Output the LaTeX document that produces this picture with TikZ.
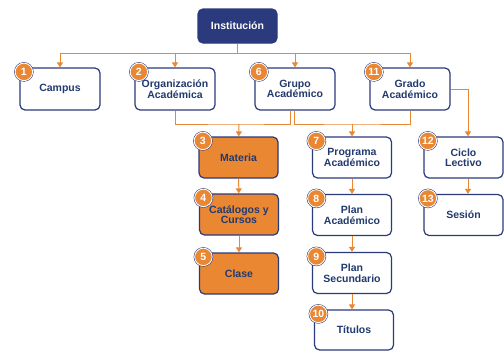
\documentclass[tikz,border=0pt]{standalone}
\usepackage{fontspec}
\setmainfont{Liberation Sans}
\usetikzlibrary{arrows.meta}
\definecolor{navy}{HTML}{2B3A7C}
\definecolor{ink}{HTML}{233A6E}
\definecolor{org}{HTML}{EA8733}
\begin{document}
\begin{tikzpicture}[x=1pt,y=-1pt,
 box/.style={draw=navy,line width=1.2pt,rounded corners=5pt,fill=white,minimum width=80pt,minimum height=42pt,inner sep=1pt,align=center,font=\fontsize{10.5}{10.5}\selectfont\bfseries,text=ink},
 obox/.style={box,fill=org},
 ibox/.style={box,fill=navy,text=white,minimum width=79pt,minimum height=34pt},
 badge/.style={circle,fill=org,draw=white,line width=0.9pt,preaction={draw=navy,line width=2pt},minimum size=17.5pt,inner sep=0pt,text=white,font=\fontsize{10.5}{10.5}\selectfont\bfseries},
 conn/.style={draw=org,line width=1pt},
 arr/.style={conn,-{Triangle[width=6pt,length=5pt]}}]
\useasboundingbox (0,0) rectangle (504,351);
% boxes
\node[ibox] (inst) at (237.5,26) {Institución};
\node[box] (campus) at (60,89) {Campus};
\node[box] (orga) at (175,89) {Organización\\Académica};
\node[box] (grupo) at (295,89) {Grupo\\Académico};
\node[box] (grado) at (410,89) {Grado\\Académico};
\node[obox,minimum width=79pt,minimum height=41pt] (materia) at (238.5,157.5) {Materia};
\node[obox,minimum width=79pt,minimum height=41pt] (catal) at (239,214.5) {Catálogos y\\Cursos};
\node[obox,minimum width=79pt,minimum height=41pt] (clase) at (239,273.5) {Clase};
\node[box,minimum width=79pt,minimum height=41pt] (prog) at (352,157.5) {Programa\\Académico};
\node[box,minimum width=79pt,minimum height=41pt] (plana) at (352,215) {Plan\\Académico};
\node[box,minimum width=79pt,minimum height=41pt] (plans) at (352,273) {Plan\\Secundario};
\node[box,minimum width=79pt,minimum height=40pt] (titulos) at (354,330) {Títulos};
\node[box,minimum width=79pt,minimum height=41pt] (ciclo) at (463.5,157.5) {Ciclo\\Lectivo};
\node[box,minimum width=79pt,minimum height=41pt] (sesion) at (463.5,215) {Sesión};
% connectors
\coordinate (j0) at (237.5,53);
\draw[conn] (inst) -- (j0);
\draw[arr] (j0) -| (campus);
\draw[arr] (j0) -| (orga);
\draw[arr] (j0) -| (grupo);
\draw[arr] (j0) -| (grado);
\coordinate (j1) at (239,124);
\coordinate (j2) at (352,124);
\draw[conn] (orga.south) |- (j1) -| ([xshift=-5pt]grupo.south);
\draw[conn] ([xshift=-1pt]grupo.south) |- (j2) -| (grado.south);
\draw[arr] (j1) -- (materia);
\draw[arr] (j2) -- (prog);
\draw[arr] (grado.east) -| ([xshift=4.5pt]ciclo.north);
\draw[arr] (materia) -- (catal);
\draw[arr] (catal) -- (clase);
\draw[arr] (prog) -- (plana);
\draw[arr] (plana) -- (plans);
\draw[arr] (plans.south) -- (plans.south |- titulos.north);
\draw[arr] ([xshift=4.5pt]ciclo.south) -- ([xshift=4.5pt]sesion.north);
% badges
\node[badge] (n1) at ([shift={(4.5,4.5)}]campus.north west) {1};
\node[badge] (n2) at ([shift={(4.5,4.5)}]orga.north west) {2};
\node[badge] (n6) at ([shift={(4.5,4.5)}]grupo.north west) {6};
\node[badge] (n11) at ([shift={(4.5,4.5)}]grado.north west) {11};
\node[badge] (n3) at ([shift={(4.5,4.5)}]materia.north west) {3};
\node[badge] (n4) at ([shift={(4.5,4.5)}]catal.north west) {4};
\node[badge] (n5) at ([shift={(4.5,4.5)}]clase.north west) {5};
\node[badge] (n7) at ([shift={(4.5,4.5)}]prog.north west) {7};
\node[badge] (n8) at ([shift={(4.5,4.5)}]plana.north west) {8};
\node[badge] (n9) at ([shift={(4.5,4.5)}]plans.north west) {9};
\node[badge] (n10) at ([shift={(4.5,4.5)}]titulos.north west) {10};
\node[badge] (n12) at ([shift={(4.5,4.5)}]ciclo.north west) {12};
\node[badge] (n13) at ([shift={(4.5,4.5)}]sesion.north west) {13};
\end{tikzpicture}
\end{document}
